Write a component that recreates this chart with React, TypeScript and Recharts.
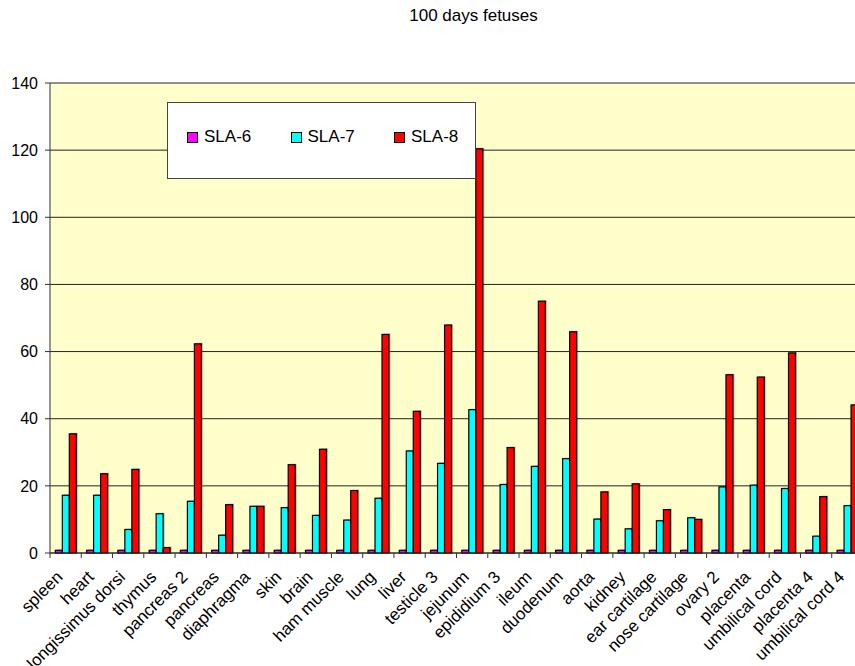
import React from "react";
import {
  Bar,
  BarChart,
  CartesianGrid,
  XAxis,
  YAxis,
} from "recharts";

// tissues along the x axis
const categories = [
  "spleen",
  "heart",
  "longissimus dorsi",
  "thymus",
  "pancreas 2",
  "pancreas",
  "diaphragma",
  "skin",
  "brain",
  "ham muscle",
  "lung",
  "liver",
  "testicle 3",
  "jejunum",
  "epididium 3",
  "ileum",
  "duodenum",
  "aorta",
  "kidney",
  "ear cartilage",
  "nose cartilage",
  "ovary 2",
  "placenta",
  "umbilical cord",
  "placenta 4",
  "umbilical cord 4",
];

const sla6 = [
  0.8, 0.8, 0.8, 0.8, 0.8, 0.8, 0.8, 0.8, 0.8, 0.8, 0.8, 0.8, 0.8,
  0.8, 0.8, 0.8, 0.8, 0.8, 0.8, 0.8, 0.8, 0.8, 0.8, 0.8, 0.8, 0.8,
];

const sla7 = [
  17.2, 17.2, 7.0, 11.7, 15.4, 5.3, 13.9, 13.5, 11.2, 9.8, 16.3, 30.4, 26.7,
  42.7, 20.4, 25.8, 28.1, 10.1, 7.2, 9.6, 10.5, 19.7, 20.2, 19.2, 5.0, 14.1,
];

const sla8 = [
  35.5, 23.6, 24.9, 1.6, 62.3, 14.4, 13.9, 26.3, 30.9, 18.6, 65.1, 42.2, 67.9,
  120.4, 31.4, 75.0, 65.9, 18.2, 20.6, 12.9, 10.0, 53.1, 52.4, 59.6, 16.8, 44.1,
];

const yTicks = [0, 20, 40, 60, 80, 100, 120, 140];

const series = [
  { key: "sla6", name: "SLA-6", color: "#FF00FF" },
  { key: "sla7", name: "SLA-7", color: "#00FFFF" },
  { key: "sla8", name: "SLA-8", color: "#FF0000" },
];

const chartData = categories.map((name, i) => ({
  name,
  sla6: sla6[i],
  sla7: sla7[i],
  sla8: sla8[i],
}));

const FONT = "'Liberation Sans', Arial, sans-serif";

// chart box (wider than the page, the right end gets clipped)
const W = 870;
const H = 666;
const MARGIN = { top: 83, right: 7, bottom: 13, left: 0 };
const Y_AXIS_W = 50;
const BAND = (W - MARGIN.left - MARGIN.right - Y_AXIS_W) / categories.length;

// bar with black outline and a light drop shadow
const ShadowBar = (props: any) => {
  const { x, y, width, height, fill } = props;
  if (!height || height <= 0) return null;
  return (
    <g>
      <rect
        x={x + 1.5}
        y={y - 1}
        width={width}
        height={height + 1}
        fill="rgba(0,0,0,0.25)"
      />
      <rect
        x={x}
        y={y}
        width={width}
        height={height}
        fill={fill}
        stroke="#000"
        strokeWidth={1.2}
      />
    </g>
  );
};

// category label rotated 45°, tick mark at the left edge of each band
const CategoryTick = (props: any) => {
  const { x, y, payload } = props;
  const half = payload?.offset || BAND / 2;
  const tx = x - 2;
  const ty = y + 25;
  return (
    <g>
      <line x1={x - half} x2={x - half} y1={y} y2={y + 5} stroke="#333" />
      <text
        x={tx}
        y={ty}
        textAnchor="end"
        fontSize={17}
        fontFamily={FONT}
        fill="#000"
        transform={`rotate(-45, ${tx}, ${ty})`}
      >
        {payload.value}
      </text>
    </g>
  );
};

function LegendBox() {
  return (
    <div
      style={{
        position: "absolute",
        left: 167,
        top: 102,
        width: 307,
        height: 75,
        background: "#fff",
        border: "1px solid #444",
        fontFamily: FONT,
        fontSize: 17,
      }}
    >
      {series.map((s, i) => (
        <div
          key={s.key}
          style={{
            position: "absolute",
            left: 19 + i * 103.5,
            top: 24,
            display: "flex",
            alignItems: "center",
            whiteSpace: "nowrap",
          }}
        >
          <span
            style={{
              display: "inline-block",
              width: 9,
              height: 9,
              background: s.color,
              border: "1px solid #000",
              marginRight: 6,
            }}
          />
          {s.name}
        </div>
      ))}
    </div>
  );
}

export default function App() {
  return (
    <div
      style={{
        position: "fixed",
        left: 0,
        top: 0,
        width: 855,
        height: 666,
        overflow: "hidden",
        background: "#fff",
      }}
    >
      <div
        style={{
          position: "absolute",
          left: 0,
          width: 947,
          top: 6,
          textAlign: "center",
          fontFamily: FONT,
          fontSize: 17,
          color: "#000",
        }}
      >
        100 days fetuses
      </div>
      <div style={{ position: "absolute", left: 0, top: 0 }}>
        <BarChart
          width={W}
          height={H}
          data={chartData}
          margin={MARGIN}
          barCategoryGap="17%"
          barGap={0}
        >
          <CartesianGrid
            vertical={false}
            stroke="#222"
            fill="#FFFFCC"
            fillOpacity={1}
          />
          <XAxis
            dataKey="name"
            interval={0}
            height={100}
            tickLine={false}
            tickSize={0}
            tickMargin={0}
            axisLine={{ stroke: "#333" }}
            tick={<CategoryTick />}
          />
          <YAxis
            width={Y_AXIS_W}
            domain={[0, 140]}
            ticks={yTicks}
            interval={0}
            tickSize={5}
            tickMargin={7}
            tickLine={{ stroke: "#333" }}
            axisLine={{ stroke: "#333" }}
            tick={{ fill: "#000", fontSize: 16, fontFamily: FONT }}
          />
          {series.map((s) => (
            <Bar
              key={s.key}
              dataKey={s.key}
              name={s.name}
              fill={s.color}
              shape={<ShadowBar />}
              isAnimationActive={false}
            />
          ))}
        </BarChart>
      </div>
      <LegendBox />
    </div>
  );
}
